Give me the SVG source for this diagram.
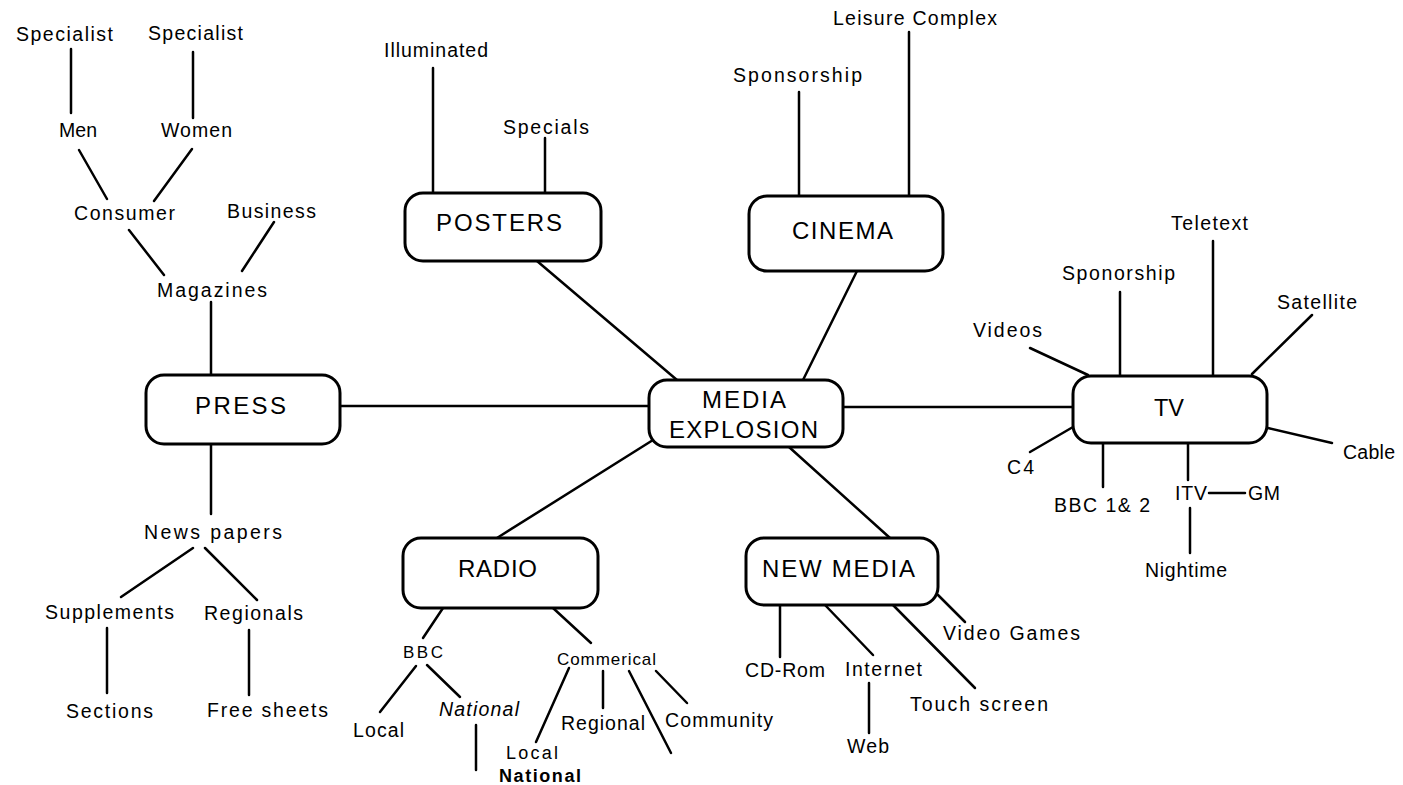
<svg xmlns="http://www.w3.org/2000/svg" width="1403" height="785" viewBox="0 0 1403 785">
<style>
  .bg{fill:#fff}
  .box{fill:#fff;stroke:#000;stroke-width:3}
  .ln{stroke:#000;stroke-width:2.5;fill:none;stroke-linecap:round}
  text{font-family:"Liberation Sans",Arial,Helvetica,sans-serif;fill:#000}
  .t{font-size:19.5px}
  .s{font-size:17px}
  .b{font-size:24px}
  .sm{font-size:18px}
  .bold{font-weight:bold}
</style>
<rect class="bg" x="0" y="0" width="1403" height="785"/>

<g id="connectors">
  <line class="ln" x1="340" y1="406" x2="649" y2="406"/>
  <line class="ln" x1="843" y1="407" x2="1073" y2="407"/>
  <line class="ln" x1="537" y1="261" x2="677" y2="380"/>
  <line class="ln" x1="857" y1="271" x2="803" y2="380"/>
  <line class="ln" x1="653" y1="440" x2="497" y2="538"/>
  <line class="ln" x1="789" y1="447" x2="890" y2="538"/>
  <line class="ln" x1="71" y1="49" x2="71" y2="113"/>
  <line class="ln" x1="193" y1="52" x2="193" y2="118"/>
  <line class="ln" x1="79" y1="150" x2="107" y2="199"/>
  <line class="ln" x1="192" y1="149" x2="154" y2="201"/>
  <line class="ln" x1="129" y1="230" x2="164" y2="275"/>
  <line class="ln" x1="274" y1="222" x2="242" y2="271"/>
  <line class="ln" x1="211" y1="302" x2="211" y2="375"/>
  <line class="ln" x1="211" y1="444" x2="211" y2="514"/>
  <line class="ln" x1="193" y1="548" x2="121" y2="597"/>
  <line class="ln" x1="205" y1="548" x2="257" y2="600"/>
  <line class="ln" x1="107" y1="628" x2="107" y2="693"/>
  <line class="ln" x1="249" y1="630" x2="249" y2="695"/>
  <line class="ln" x1="433" y1="68" x2="433" y2="193"/>
  <line class="ln" x1="545" y1="138" x2="545" y2="193"/>
  <line class="ln" x1="799" y1="92" x2="799" y2="196"/>
  <line class="ln" x1="909" y1="32" x2="909" y2="196"/>
  <line class="ln" x1="1213" y1="241" x2="1213" y2="376"/>
  <line class="ln" x1="1120" y1="292" x2="1120" y2="376"/>
  <line class="ln" x1="1312" y1="315" x2="1252" y2="374"/>
  <line class="ln" x1="1030" y1="348" x2="1088" y2="375"/>
  <line class="ln" x1="1030" y1="452" x2="1073" y2="427"/>
  <line class="ln" x1="1103" y1="443" x2="1103" y2="487"/>
  <line class="ln" x1="1188" y1="443" x2="1188" y2="480"/>
  <line class="ln" x1="1209" y1="493" x2="1245" y2="493"/>
  <line class="ln" x1="1190" y1="508" x2="1190" y2="553"/>
  <line class="ln" x1="1268" y1="428" x2="1332" y2="443"/>
  <line class="ln" x1="443" y1="608" x2="423" y2="638"/>
  <line class="ln" x1="553" y1="608" x2="591" y2="643"/>
  <line class="ln" x1="416" y1="666" x2="380" y2="712"/>
  <line class="ln" x1="427" y1="665" x2="460" y2="697"/>
  <line class="ln" x1="476" y1="725" x2="476" y2="770"/>
  <line class="ln" x1="569" y1="668" x2="536" y2="742"/>
  <line class="ln" x1="603" y1="671" x2="603" y2="708"/>
  <line class="ln" x1="629" y1="671" x2="671" y2="753"/>
  <line class="ln" x1="656" y1="671" x2="687" y2="703"/>
  <line class="ln" x1="780" y1="605" x2="780" y2="657"/>
  <line class="ln" x1="825" y1="605" x2="873" y2="655"/>
  <line class="ln" x1="869" y1="683" x2="869" y2="733"/>
  <line class="ln" x1="893" y1="605" x2="975" y2="688"/>
  <line class="ln" x1="938" y1="595" x2="965" y2="622"/>
</g>

<g id="media-explosion">
  <rect class="box" x="649" y="380" width="194" height="67" rx="18"/>
  <text class="b" x="702" y="408" textLength="84" lengthAdjust="spacing">MEDIA</text>
  <text class="b" x="669" y="438" textLength="149" lengthAdjust="spacing">EXPLOSION</text>
</g>
<g id="press">
  <rect class="box" x="146" y="375" width="194" height="69" rx="18"/>
  <text class="b" x="195" y="414" textLength="91" lengthAdjust="spacing">PRESS</text>
</g>
<g id="posters">
  <rect class="box" x="405" y="193" width="196" height="68" rx="18"/>
  <text class="b" x="436" y="231" textLength="126" lengthAdjust="spacing">POSTERS</text>
</g>
<g id="cinema">
  <rect class="box" x="749" y="196" width="194" height="75" rx="18"/>
  <text class="b" x="792" y="239" textLength="101" lengthAdjust="spacing">CINEMA</text>
</g>
<g id="tv">
  <rect class="box" x="1073" y="376" width="194" height="67" rx="18"/>
  <text class="b" x="1154" y="416" textLength="30" lengthAdjust="spacingAndGlyphs">TV</text>
</g>
<g id="radio">
  <rect class="box" x="403" y="538" width="195" height="70" rx="18"/>
  <text class="b" x="458" y="577" textLength="79" lengthAdjust="spacing">RADIO</text>
</g>
<g id="new-media">
  <rect class="box" x="746" y="538" width="192" height="67" rx="18"/>
  <text class="b" x="762" y="577" textLength="153" lengthAdjust="spacing">NEW MEDIA</text>
</g>

<g id="press-labels">
  <text class="t" x="16" y="41" textLength="97" lengthAdjust="spacing">Specialist</text>
  <text class="t" x="148" y="40" textLength="95" lengthAdjust="spacing">Specialist</text>
  <text class="t" x="59" y="137" textLength="38" lengthAdjust="spacing">Men</text>
  <text class="t" x="161" y="137" textLength="71" lengthAdjust="spacing">Women</text>
  <text class="t" x="74" y="220" textLength="101" lengthAdjust="spacing">Consumer</text>
  <text class="t" x="227" y="218" textLength="89" lengthAdjust="spacing">Business</text>
  <text class="t" x="157" y="297" textLength="110" lengthAdjust="spacing">Magazines</text>
  <text class="t" x="144" y="539" textLength="138" lengthAdjust="spacing">News papers</text>
  <text class="t" x="45" y="619" textLength="129" lengthAdjust="spacing">Supplements</text>
  <text class="t" x="204" y="620" textLength="99" lengthAdjust="spacing">Regionals</text>
  <text class="t" x="66" y="718" textLength="87" lengthAdjust="spacing">Sections</text>
  <text class="t" x="207" y="717" textLength="121" lengthAdjust="spacing">Free sheets</text>
</g>
<g id="posters-labels">
  <text class="t" x="384" y="57" textLength="104" lengthAdjust="spacing">Illuminated</text>
  <text class="t" x="503" y="134" textLength="86" lengthAdjust="spacing">Specials</text>
</g>
<g id="cinema-labels">
  <text class="t" x="833" y="25" textLength="164" lengthAdjust="spacing">Leisure Complex</text>
  <text class="t" x="733" y="82" textLength="129" lengthAdjust="spacing">Sponsorship</text>
</g>
<g id="tv-labels">
  <text class="t" x="1171" y="230" textLength="77" lengthAdjust="spacing">Teletext</text>
  <text class="t" x="1062" y="280" textLength="113" lengthAdjust="spacing">Sponorship</text>
  <text class="t" x="1277" y="309" textLength="80" lengthAdjust="spacing">Satellite</text>
  <text class="t" x="973" y="337" textLength="69" lengthAdjust="spacing">Videos</text>
  <text class="t" x="1007" y="474" textLength="27" lengthAdjust="spacing">C4</text>
  <text class="t" x="1054" y="512" textLength="96" lengthAdjust="spacing">BBC 1&amp; 2</text>
  <text class="t" x="1175" y="500" textLength="32" lengthAdjust="spacing">ITV</text>
  <text class="t" x="1248" y="500" textLength="32" lengthAdjust="spacing">GM</text>
  <text class="t" x="1145" y="577" textLength="82" lengthAdjust="spacing">Nightime</text>
  <text class="t" x="1343" y="459" textLength="52" lengthAdjust="spacing">Cable</text>
</g>
<g id="radio-labels">
  <text class="s" x="403" y="658" textLength="40" lengthAdjust="spacing">BBC</text>
  <text class="s" x="557" y="665" textLength="99" lengthAdjust="spacing">Commerical</text>
  <text class="t" x="353" y="737" textLength="51" lengthAdjust="spacing">Local</text>
  <text class="t" x="439" y="716" textLength="80" lengthAdjust="spacing" font-style="italic">National</text>
  <text class="t" x="561" y="730" textLength="84" lengthAdjust="spacing">Regional</text>
  <text class="t" x="665" y="727" textLength="108" lengthAdjust="spacing">Community</text>
  <text class="sm" x="506" y="759" textLength="52" lengthAdjust="spacing">Local</text>
  <text class="sm bold" x="499" y="782" textLength="82" lengthAdjust="spacing">National</text>
</g>
<g id="new-media-labels">
  <text class="t" x="745" y="677" textLength="80" lengthAdjust="spacing">CD-Rom</text>
  <text class="t" x="845" y="676" textLength="77" lengthAdjust="spacing">Internet</text>
  <text class="t" x="847" y="753" textLength="42" lengthAdjust="spacing">Web</text>
  <text class="t" x="910" y="711" textLength="138" lengthAdjust="spacing">Touch screen</text>
  <text class="t" x="943" y="640" textLength="137" lengthAdjust="spacing">Video Games</text>
</g>
</svg>
